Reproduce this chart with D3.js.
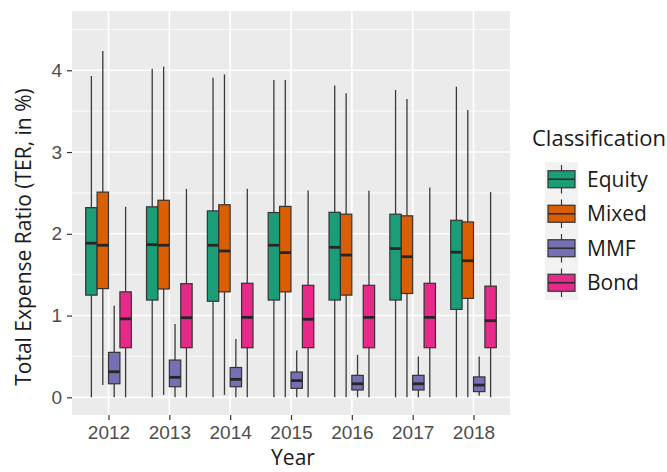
<!DOCTYPE html>
<html>
<head>
<meta charset="utf-8">
<script src="https://cdn.jsdelivr.net/npm/d3@7"></script>
<style>
  html, body { margin: 0; padding: 0; background: #ffffff; }
  svg { display: block; }
</style>
</head>
<body>
<svg id="chart" width="667" height="472"></svg>
<script>
// Fund years on the x axis
const years = ["2012", "2013", "2014", "2015", "2016", "2017", "2018"];
// Fund classifications, drawn side by side within each year
const classes = ["Equity", "Mixed", "MMF", "Bond"];
const classColors = ["#1b9e77", "#d95f02", "#7570b3", "#e7298a"];
const yTicks = [0, 1, 2, 3, 4];

// Five-number summaries per year: [lower whisker, Q1, median, Q3, upper whisker]
const equityStats = [
  [0, 1.25, 1.885, 2.32, 3.93],
  [0, 1.19, 1.867, 2.33, 4.02],
  [0, 1.175, 1.86, 2.28, 3.91],
  [0, 1.19, 1.86, 2.26, 3.88],
  [0, 1.19, 1.835, 2.263, 3.815],
  [0, 1.19, 1.82, 2.24, 3.76],
  [0, 1.076, 1.775, 2.165, 3.80]
];
const mixedStats = [
  [0.15, 1.33, 1.86, 2.51, 4.235],
  [0.03, 1.325, 1.86, 2.41, 4.045],
  [0.03, 1.29, 1.79, 2.355, 3.95],
  [0, 1.29, 1.77, 2.335, 3.88],
  [0, 1.25, 1.74, 2.24, 3.72],
  [0, 1.27, 1.72, 2.22, 3.65],
  [0, 1.21, 1.67, 2.145, 3.515]
];
const mmfStats = [
  [0, 0.166, 0.313, 0.55, 1.12],
  [0, 0.13, 0.245, 0.456, 0.897],
  [0, 0.13, 0.22, 0.365, 0.715],
  [0, 0.11, 0.205, 0.31, 0.573],
  [0, 0.09, 0.166, 0.269, 0.52],
  [0, 0.09, 0.166, 0.269, 0.50],
  [0.02, 0.07, 0.15, 0.25, 0.50]
];
const bondStats = [
  [0, 0.607, 0.96, 1.29, 2.33],
  [0, 0.607, 0.974, 1.39, 2.55],
  [0, 0.607, 0.978, 1.395, 2.55],
  [0, 0.607, 0.955, 1.37, 2.53],
  [0, 0.607, 0.978, 1.37, 2.527],
  [0, 0.607, 0.978, 1.395, 2.567],
  [0, 0.607, 0.937, 1.36, 2.51]
];
const statsByClass = [equityStats, mixedStats, mmfStats, bondStats];

const svg = d3.select("#chart");
const panel = { left: 72, right: 510, top: 11, bottom: 415 };

const x = d3.scalePoint().domain(years).range([panel.left, panel.right]).padding(0.6);
const step = x.step();
const dodge = d3.scaleBand().domain(classes).range([-0.375 * step, 0.375 * step]);
const y = d3.scaleLinear().domain([-0.216, 4.725]).range([panel.bottom, panel.top]);
const color = d3.scaleOrdinal().domain(classes).range(classColors);

// Panel background
svg.append("rect")
  .attr("x", panel.left).attr("y", panel.top)
  .attr("width", panel.right - panel.left).attr("height", panel.bottom - panel.top)
  .attr("fill", "#ebebeb");

// Grid lines
const grid = svg.append("g");
const minor = d3.range(0.5, 4.6, 1);
grid.selectAll("line.minor").data(minor).join("line")
  .attr("x1", panel.left).attr("x2", panel.right)
  .attr("y1", d => y(d)).attr("y2", d => y(d))
  .attr("stroke", "#ffffff").attr("stroke-width", 0.8);
grid.selectAll("line.major").data(yTicks).join("line")
  .attr("x1", panel.left).attr("x2", panel.right)
  .attr("y1", d => y(d)).attr("y2", d => y(d))
  .attr("stroke", "#ffffff").attr("stroke-width", 1.6);
grid.selectAll("line.vert").data(years).join("line")
  .attr("x1", d => x(d)).attr("x2", d => x(d))
  .attr("y1", panel.top).attr("y2", panel.bottom)
  .attr("stroke", "#ffffff").attr("stroke-width", 1.6);

// Box plots
const boxes = [];
classes.forEach((c, ci) => {
  years.forEach((yr, yi) => {
    const s = statsByClass[ci][yi];
    boxes.push({ cls: c, year: yr, lo: s[0], q1: s[1], med: s[2], q3: s[3], hi: s[4] });
  });
});
const bw = dodge.bandwidth();
const g = svg.append("g").selectAll("g").data(boxes).join("g")
  .attr("transform", d => `translate(${x(d.year) + dodge(d.cls)},0)`);
g.append("line")
  .attr("x1", bw / 2).attr("x2", bw / 2)
  .attr("y1", d => y(d.hi)).attr("y2", d => y(d.q3))
  .attr("stroke", "#3a3a3a").attr("stroke-width", 1.3);
g.append("line")
  .attr("x1", bw / 2).attr("x2", bw / 2)
  .attr("y1", d => y(d.q1)).attr("y2", d => y(d.lo))
  .attr("stroke", "#3a3a3a").attr("stroke-width", 1.3);
g.append("rect")
  .attr("x", 0).attr("width", bw)
  .attr("y", d => y(d.q3)).attr("height", d => y(d.q1) - y(d.q3))
  .attr("fill", d => color(d.cls))
  .attr("stroke", "#333333").attr("stroke-width", 1.2);
g.append("line")
  .attr("x1", 0).attr("x2", bw)
  .attr("y1", d => y(d.med)).attr("y2", d => y(d.med))
  .attr("stroke", "#262626").attr("stroke-width", 2.8);

// Axes
const tickFont = "'Liberation Sans', Arial, sans-serif";
const yAxis = svg.append("g")
  .attr("transform", `translate(${panel.left},0)`)
  .call(d3.axisLeft(y).tickValues(yTicks).tickFormat(d3.format("d")).tickSizeOuter(0).tickSizeInner(5).tickPadding(5));
yAxis.select(".domain").remove();
yAxis.selectAll(".tick line").attr("stroke", "#333333").attr("stroke-width", 1.2);
yAxis.selectAll(".tick text").attr("fill", "#4d4d4d")
  .style("font-family", tickFont).style("font-size", "19px");

const xAxis = svg.append("g")
  .attr("transform", `translate(0,${panel.bottom})`)
  .call(d3.axisBottom(x).tickSizeOuter(0).tickSizeInner(5).tickPadding(6));
xAxis.select(".domain").remove();
xAxis.selectAll(".tick line").attr("stroke", "#333333").attr("stroke-width", 1.2);
xAxis.selectAll(".tick text").attr("fill", "#4d4d4d")
  .style("font-family", tickFont).style("font-size", "19px");

// Axis titles
const titleFont = "'Open Sans', 'Noto Sans', sans-serif";
svg.append("text")
  .attr("x", 293).attr("y", 465)
  .attr("text-anchor", "middle")
  .style("font-family", titleFont).style("font-size", "21px")
  .attr("fill", "#1a1a1a")
  .text("Year");
svg.append("text")
  .attr("transform", "translate(31,237) rotate(-90)")
  .attr("text-anchor", "middle")
  .style("font-family", titleFont).style("font-size", "21px")
  .attr("fill", "#1a1a1a")
  .text("Total Expense Ratio (TER, in %)");

// Legend
const legend = svg.append("g");
legend.append("text")
  .attr("x", 532).attr("y", 146)
  .style("font-family", titleFont).style("font-size", "22px")
  .attr("fill", "#1a1a1a")
  .text("Classification");
const keyH = 34.5, keyW = 33, keyX = 545, keyY = 162;
const item = legend.selectAll("g.item").data(classes).join("g")
  .attr("transform", (d, i) => `translate(${keyX},${keyY + i * keyH})`);
item.append("rect")
  .attr("width", keyW).attr("height", keyH)
  .attr("fill", "#f2f2f2");
item.append("line")
  .attr("x1", keyW / 2).attr("x2", keyW / 2)
  .attr("y1", 3).attr("y2", keyH - 3)
  .attr("stroke", "#3a3a3a").attr("stroke-width", 1.2);
item.append("rect")
  .attr("x", 3).attr("width", keyW - 6)
  .attr("y", keyH / 2 - 8.5).attr("height", 17)
  .attr("fill", d => color(d))
  .attr("stroke", "#333333").attr("stroke-width", 1.2);
item.append("line")
  .attr("x1", 3).attr("x2", keyW - 3)
  .attr("y1", keyH / 2).attr("y2", keyH / 2)
  .attr("stroke", "#2b2b2b").attr("stroke-width", 1.6);
item.append("text")
  .attr("x", keyW + 9).attr("y", keyH / 2)
  .attr("dy", "0.36em")
  .style("font-family", titleFont).style("font-size", "21px")
  .attr("fill", "#1a1a1a")
  .text(d => d);
</script>
</body>
</html>
